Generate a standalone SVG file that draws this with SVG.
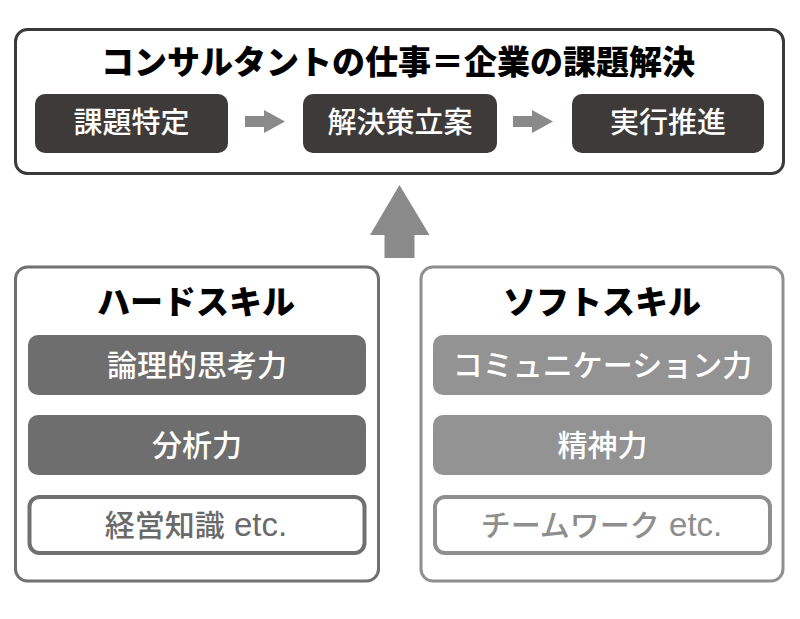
<svg xmlns="http://www.w3.org/2000/svg" width="800" height="619" viewBox="0 0 800 619">
<style>
  .t { font-family: "Noto Sans CJK JP", "Noto Sans", sans-serif; text-anchor: middle; }
  .title { font-size: 33px; font-weight: 900; fill: #000; }
  .lbl { font-size: 29px; font-weight: 500; fill: #fff; }
  .sk { font-size: 30px; font-weight: 500; fill: #fff; }
  .lat { font-family: "Liberation Sans", Arial, sans-serif; font-weight: 400; font-size: 33px; }
  .step { fill: #3e3a39; }
  .hardFill { fill: #6f6e6e; }
  .softFill { fill: #939393; }
  .arrow { fill: #8a8a8a; }
</style>
<rect width="800" height="619" fill="#fff"/>

<g id="consultant">
  <rect x="15.5" y="29.5" width="768" height="144" rx="12" fill="#fff" stroke="#3a3a3a" stroke-width="3"/>
  <text class="t title" x="398" y="74">コンサルタントの仕事＝企業の課題解決</text>
</g>
<g id="step1">
  <rect class="step" x="35" y="94" width="193" height="59" rx="10"/>
  <text class="t lbl" x="131.5" y="133">課題特定</text>
</g>
<g id="step2">
  <rect class="step" x="303" y="94" width="194" height="59" rx="10"/>
  <text class="t lbl" x="400" y="133">解決策立案</text>
</g>
<g id="step3">
  <rect class="step" x="572" y="94" width="192" height="59" rx="10"/>
  <text class="t lbl" x="668" y="133">実行推進</text>
</g>

<g id="hard">
  <rect x="15.5" y="267" width="363" height="314" rx="12" fill="#fff" stroke="#707070" stroke-width="3"/>
  <text class="t title" x="196" y="314">ハードスキル</text>
</g>
<g id="hard1">
  <rect class="hardFill" x="28" y="335" width="338" height="60" rx="10"/>
  <text class="t sk" x="197" y="376">論理的思考力</text>
</g>
<g id="hard2">
  <rect class="hardFill" x="28" y="415" width="338" height="60" rx="10"/>
  <text class="t sk" x="197" y="456">分析力</text>
</g>
<g id="hard3">
  <rect x="29.5" y="497" width="335" height="56" rx="10" fill="#fff" stroke="#707070" stroke-width="4"/>
  <text class="t sk" x="196" y="536" style="fill:#6a6a6a">経営知識<tspan class="lat"> etc.</tspan></text>
</g>

<g id="soft">
  <rect x="421" y="267" width="362" height="314" rx="12" fill="#fff" stroke="#8f8f8f" stroke-width="3"/>
  <text class="t title" x="602" y="314">ソフトスキル</text>
</g>
<g id="soft1">
  <rect class="softFill" x="433" y="335" width="339" height="60" rx="10"/>
  <text class="t sk" x="602.5" y="376">コミュニケーション力</text>
</g>
<g id="soft2">
  <rect class="softFill" x="433" y="415" width="339" height="60" rx="10"/>
  <text class="t sk" x="602.5" y="456">精神力</text>
</g>
<g id="soft3">
  <rect x="435" y="497" width="335" height="56" rx="10" fill="#fff" stroke="#8f8f8f" stroke-width="4"/>
  <text class="t sk" x="601.5" y="536" style="fill:#8e8e8e">チームワーク<tspan class="lat"> etc.</tspan></text>
</g>

<g id="connectors">
  <polygon class="arrow" points="245,116 264,116 264,110 285,121.5 264,133 264,127 245,127"/>
  <polygon class="arrow" points="513,116 532,116 532,110 553,121.5 532,133 532,127 513,127"/>
  <polygon class="arrow" points="399.5,185 429.5,235 414.5,235 414.5,258 384.5,258 384.5,235 370,235"/>
</g>
</svg>
